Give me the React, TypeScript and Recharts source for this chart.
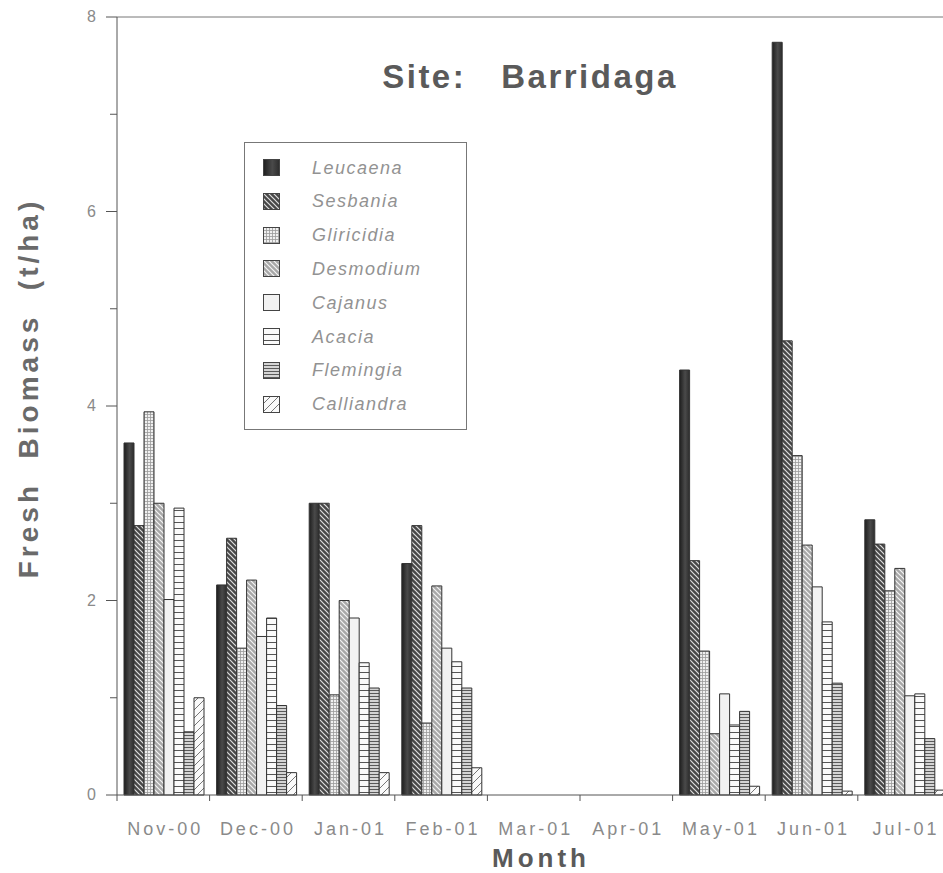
import { Bar, BarChart, ReferenceLine, XAxis, YAxis } from "recharts";

// months on the x axis
const months = ["Nov-00", "Dec-00", "Jan-01", "Feb-01", "Mar-01", "Apr-01", "May-01", "Jun-01", "Jul-01"];

// fresh biomass (t/ha) per species (no data for Mar/Apr)
const leucaena = [3.62, 2.16, 3.0, 2.38, null, null, 4.37, 7.74, 2.83];
const sesbania = [2.77, 2.64, 3.0, 2.77, null, null, 2.41, 4.67, 2.58];
const gliricidia = [3.94, 1.51, 1.03, 0.74, null, null, 1.48, 3.49, 2.1];
const desmodium = [3.0, 2.21, 2.0, 2.15, null, null, 0.63, 2.57, 2.33];
const cajanus = [2.01, 1.63, 1.82, 1.51, null, null, 1.04, 2.14, 1.02];
const acacia = [2.95, 1.82, 1.36, 1.37, null, null, 0.72, 1.78, 1.04];
const flemingia = [0.65, 0.92, 1.1, 1.1, null, null, 0.86, 1.15, 0.58];
const calliandra = [1.0, 0.23, 0.23, 0.28, null, null, 0.09, 0.04, 0.05];

const yTicks = [0, 1, 2, 3, 4, 5, 6, 7, 8];

const species = [
  { key: "leucaena", name: "Leucaena", values: leucaena, pat: "leu" },
  { key: "sesbania", name: "Sesbania", values: sesbania, pat: "ses" },
  { key: "gliricidia", name: "Gliricidia", values: gliricidia, pat: "gli" },
  { key: "desmodium", name: "Desmodium", values: desmodium, pat: "des" },
  { key: "cajanus", name: "Cajanus", values: cajanus, pat: "caj" },
  { key: "acacia", name: "Acacia", values: acacia, pat: "aca" },
  { key: "flemingia", name: "Flemingia", values: flemingia, pat: "fle" },
  { key: "calliandra", name: "Calliandra", values: calliandra, pat: "cal" },
];

const data = months.map((m, i) => {
  const row: Record<string, any> = { month: m };
  species.forEach((s) => {
    row[s.key] = s.values[i];
  });
  return row;
});

// layout
const PLOT_LEFT = 117;
const PLOT_TOP = 17;
const PLOT_BOTTOM = 795;
const BAND = 92.6;
const CHART_W = 960;
const CHART_H = 873;
const PLOT_W = BAND * months.length;
const FONT = "'Liberation Sans', Arial, Helvetica, sans-serif";

/** fill patterns used for the bars and the legend swatches */
const Patterns = ({ p }: { p: string }) => (
  <defs>
    <linearGradient id={`${p}leu`} x1="0" y1="0" x2="1" y2="0">
      <stop offset="0" stopColor="#1e1e1e" />
      <stop offset="0.55" stopColor="#4a4a4a" />
      <stop offset="1" stopColor="#2c2c2c" />
    </linearGradient>
    <pattern id={`${p}ses`} width="5" height="5" patternUnits="userSpaceOnUse">
      <rect width="5" height="5" fill="#474747" />
      <path d="M0,0 L5,5 M-1,4 L1,6 M4,-1 L6,1" stroke="#dedede" strokeWidth="1.2" />
    </pattern>
    <pattern id={`${p}gli`} width="3" height="3" patternUnits="userSpaceOnUse">
      <rect width="3" height="3" fill="#f0f0f0" />
      <path d="M0,0.5 H3 M0.5,0 V3" stroke="#9a9a9a" strokeWidth="0.8" />
    </pattern>
    <pattern id={`${p}des`} width="5" height="5" patternUnits="userSpaceOnUse">
      <rect width="5" height="5" fill="#a8a8a8" />
      <path d="M0,0 L5,5 M-1,4 L1,6 M4,-1 L6,1" stroke="#f4f4f4" strokeWidth="1.2" />
    </pattern>
    <pattern id={`${p}caj`} width="4" height="4" patternUnits="userSpaceOnUse">
      <rect width="4" height="4" fill="#f2f2f2" />
    </pattern>
    <pattern id={`${p}aca`} width="6" height="6" patternUnits="userSpaceOnUse">
      <rect width="6" height="6" fill="#fafafa" />
      <path d="M0,0.5 H6" stroke="#555" strokeWidth="1" />
    </pattern>
    <pattern id={`${p}fle`} width="3" height="3" patternUnits="userSpaceOnUse">
      <rect width="3" height="3" fill="#d4d4d4" />
      <path d="M0,0.5 H3" stroke="#5a5a5a" strokeWidth="1" />
    </pattern>
    <pattern id={`${p}cal`} width="8" height="8" patternUnits="userSpaceOnUse">
      <rect width="8" height="8" fill="#fafafa" />
      <path d="M0,8 L8,0 M-1,1 L1,-1 M7,9 L9,7" stroke="#777" strokeWidth="1" />
    </pattern>
  </defs>
);

const YTick = (props: any) => {
  const { x, y, payload } = props;
  const major = payload.value % 2 === 0;
  return (
    <g>
      <line x1={x - (major ? 11 : 7)} x2={x} y1={y} y2={y} stroke="#555" />
      {major && (
        <text x={x - 21} y={y + 5} textAnchor="end" fill="#8a8a8a" fontSize={16} fontFamily={FONT}>
          {payload.value}
        </text>
      )}
    </g>
  );
};

const XTick = (props: any) => {
  const { x, y, payload } = props;
  return (
    <g>
      <line x1={x - BAND / 2} x2={x - BAND / 2} y1={y} y2={y + 6} stroke="#555" />
      <text x={x + 2} y={y + 40} textAnchor="middle" fill="#8a8a8a" fontSize={18} letterSpacing={3} fontFamily={FONT}>
        {payload.value}
      </text>
    </g>
  );
};

const Legend = () => (
  <div
    style={{
      position: "absolute",
      left: 244,
      top: 142,
      width: 223,
      height: 288,
      border: "1px solid #777",
      boxSizing: "border-box",
      background: "#fff",
    }}
  >
    {species.map((s, i) => (
      <div
        key={s.key}
        style={{ position: "absolute", left: 18, top: 16 + i * 33.8, height: 18, display: "flex", alignItems: "center" }}
      >
        <svg width={18} height={18} style={{ display: "block" }}>
          <Patterns p={`lg${i}`} />
          <rect x={0.5} y={0.5} width={16} height={16} fill={`url(#lg${i}${s.pat})`} stroke="#444" />
        </svg>
        <span
          style={{
            marginLeft: 31,
            fontStyle: "italic",
            fontSize: 18,
            letterSpacing: 1.5,
            color: "#929292",
            fontFamily: FONT,
          }}
        >
          {s.name}
        </span>
      </div>
    ))}
  </div>
);

export default function App() {
  return (
    <div
      style={{
        position: "absolute",
        left: 0,
        top: 0,
        width: 943,
        height: 873,
        overflow: "hidden",
        background: "#fff",
      }}
    >
      <BarChart
        width={CHART_W}
        height={CHART_H}
        data={data}
        margin={{ top: PLOT_TOP, left: 0, right: CHART_W - PLOT_LEFT - PLOT_W, bottom: 0 }}
        barCategoryGap={7}
        barGap={0}
      >
        <Patterns p="c" />
        <XAxis
          dataKey="month"
          height={CHART_H - PLOT_BOTTOM}
          axisLine={{ stroke: "#555" }}
          tickLine={false}
          tickSize={0}
          tickMargin={0}
          interval={0}
          tick={<XTick />}
        />
        <YAxis
          width={PLOT_LEFT}
          domain={[0, 8]}
          ticks={yTicks}
          interval={0}
          axisLine={{ stroke: "#555" }}
          tickLine={false}
          tickSize={0}
          tickMargin={0}
          tick={<YTick />}
        />
        <ReferenceLine y={8} stroke="#777" />
        {species.map((s) => (
          <Bar
            key={s.key}
            dataKey={s.key}
            name={s.name}
            fill={`url(#c${s.pat})`}
            stroke="#333"
            strokeWidth={1}
            isAnimationActive={false}
          />
        ))}
        <text
          x={530}
          y={88}
          textAnchor="middle"
          fill="#5a5a5a"
          fontSize={33}
          fontWeight="bold"
          letterSpacing={2.5}
          fontFamily={FONT}
          style={{ whiteSpace: "pre" }}
        >
          {"Site:   Barridaga"}
        </text>
        <text
          x={541}
          y={867}
          textAnchor="middle"
          fill="#5a5a5a"
          fontSize={26}
          fontWeight="bold"
          letterSpacing={4}
          fontFamily={FONT}
        >
          Month
        </text>
        <text
          x={38}
          y={388}
          transform="rotate(-90, 38, 388)"
          textAnchor="middle"
          fill="#6a6a6a"
          fontSize={28}
          fontWeight="bold"
          letterSpacing={4}
          fontFamily={FONT}
          style={{ whiteSpace: "pre" }}
        >
          {"Fresh  Biomass  (t/ha)"}
        </text>
      </BarChart>
      <Legend />
    </div>
  );
}
